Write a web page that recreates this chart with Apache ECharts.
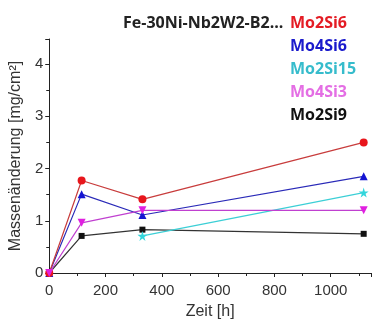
<!DOCTYPE html>
<html>
<head>
<meta charset="utf-8">
<script src="https://cdn.jsdelivr.net/npm/echarts@6/dist/echarts.min.js"></script>
<style>
  html, body { margin: 0; padding: 0; background: #fff; }
  #chart { width: 374px; height: 327px; }
</style>
</head>
<body>
<div id="chart"></div>
<script>
// Zeit [h]
const zeit = [0, 115, 331, 1117];
// Massenänderung [mg/cm2] per alloy
const mo2si6 = [0, 1.77, 1.41, 2.5];
const mo4si6 = [0, 1.51, 1.11, 1.85];
const mo2si15 = [null, null, 0.71, 1.54];
const mo4si3 = [0, 0.96, 1.2, 1.2];
const mo2si9 = [0, 0.71, 0.83, 0.75];

const xTicks = [0, 200, 400, 600, 800, 1000];
const yTicks = [0, 1, 2, 3, 4];

const star = 'path://M50,0 L61,35 L98,35 L68,57 L79,91 L50,70 L21,91 L32,57 L2,35 L39,35 Z';

function pairs(vals) {
  return zeit.map((t, i) => [t, vals[i]]).filter(p => p[1] !== null);
}

let chartDom = document.getElementById('chart');
let myChart = echarts.init(chartDom);

const series = [
  { name: 'Mo2Si9', data: mo2si9, color: '#111111', line: '#333333', symbol: 'rect', size: 6 },
  { name: 'Mo2Si15', data: mo2si15, color: '#33d6dc', line: '#3ccfd6', symbol: star, size: 10 },
  { name: 'Mo4Si6', data: mo4si6, color: '#1414d2', line: '#2a2ab8', symbol: 'triangle', size: 8 },
  { name: 'Mo2Si6', data: mo2si6, color: '#e8161c', line: '#c83c3c', symbol: 'circle', size: 8 },
  { name: 'Mo4Si3', data: mo4si3, color: '#e020e0', line: '#c040d0', symbol: 'triangle', size: 8, rotate: 180 },
];

const legendItems = [
  { name: 'Mo2Si6', color: '#e41c24' },
  { name: 'Mo4Si6', color: '#1a1acc' },
  { name: 'Mo2Si15', color: '#36bccc' },
  { name: 'Mo4Si3', color: '#e46ee4' },
  { name: 'Mo2Si9', color: '#111111' },
];

var option = {
  animation: false,
  title: {
    text: 'Fe-30Ni-Nb2W2-B2...',
    left: 118,
    top: 10,
    textStyle: {
      fontFamily: 'Open Sans',
      fontWeight: 'bold',
      fontSize: 16,
      color: '#222',
    },
  },
  legend: {
    orient: 'vertical',
    left: 285,
    top: 10,
    itemWidth: 0,
    itemHeight: 0,
    itemGap: 7,
    icon: 'none',
    selectedMode: false,
    data: legendItems.map(d => ({
      name: d.name,
      textStyle: {
        color: d.color,
        fontFamily: 'Open Sans',
        fontWeight: 'bold',
        fontSize: 16,
        padding: [0, 0, 0, -5],
      },
    })),
  },
  grid: {
    left: 49,
    right: 0,
    top: 39,
    bottom: 54,
    containLabel: false,
  },
  xAxis: {
    type: 'value',
    min: 0,
    max: 1143,
    interval: 200,
    name: 'Zeit [h]',
    nameLocation: 'middle',
    nameGap: 31,
    nameTextStyle: { fontFamily: 'Liberation Sans', fontSize: 16, color: '#333' },
    axisLine: { show: true, lineStyle: { color: '#222', width: 1 } },
    axisTick: { show: true, length: 4, lineStyle: { color: '#222' } },
    minorTick: { show: true, splitNumber: 2, length: 3, lineStyle: { color: '#222' } },
    axisLabel: {
      fontFamily: 'Liberation Sans',
      fontSize: 15,
      color: '#333',
      margin: 10,
      formatter: v => (xTicks.indexOf(v) >= 0 ? String(v) : ''),
    },
    splitLine: { show: false },
  },
  yAxis: {
    type: 'value',
    min: 0,
    max: 4.48,
    interval: 1,
    name: 'Massenänderung [mg/cm²]',
    nameLocation: 'middle',
    nameGap: 20,
    nameTextStyle: { fontFamily: 'Liberation Sans', fontSize: 16, color: '#333' },
    axisLine: { show: true, lineStyle: { color: '#222', width: 1 } },
    axisTick: { show: true, length: 4, lineStyle: { color: '#222' } },
    minorTick: { show: true, splitNumber: 2, length: 3, lineStyle: { color: '#222' } },
    axisLabel: {
      fontFamily: 'Liberation Sans',
      fontSize: 15,
      color: '#333',
      margin: 6,
      formatter: v => (yTicks.indexOf(v) >= 0 ? String(v) : ''),
    },
    splitLine: { show: false },
  },
  series: series.map(s => ({
    name: s.name,
    type: 'line',
    data: pairs(s.data),
    symbol: s.symbol,
    symbolSize: s.size,
    symbolRotate: s.rotate || 0,
    showAllSymbol: true,
    itemStyle: { color: s.color },
    lineStyle: { color: s.line, width: 1.2 },
    emphasis: { disabled: true },
  })),
};

option && myChart.setOption(option);
</script>
</body>
</html>
